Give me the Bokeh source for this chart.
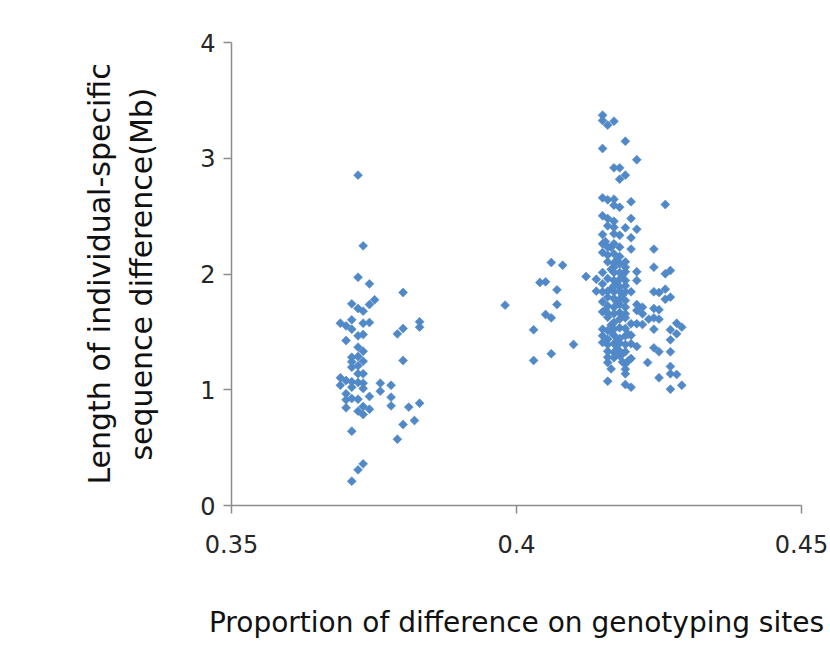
from bokeh.plotting import figure
from bokeh.models import Range1d, FixedTicker, ColumnDataSource
from bokeh.embed import file_html
from bokeh.resources import INLINE
import math

# ---- data ----
x_low = [0.3722, 0.3731, 0.3722, 0.3742, 0.3801, 0.3751, 0.3742, 0.3711, 0.3722, 0.3731,
         0.3691, 0.3701, 0.3711, 0.3711, 0.3731, 0.3742, 0.3830, 0.3830, 0.3801, 0.3791,
         0.3722, 0.3731, 0.3701, 0.3722, 0.3731, 0.3711, 0.3722, 0.3731, 0.3711, 0.3801,
         0.3722, 0.3711, 0.3731, 0.3722, 0.3691, 0.3701, 0.3711, 0.3722, 0.3731, 0.3691,
         0.3711, 0.3731, 0.3761, 0.3780, 0.3761, 0.3701, 0.3742, 0.3780, 0.3701, 0.3711,
         0.3722, 0.3830, 0.3780, 0.3701, 0.3731, 0.3742, 0.3722, 0.3811, 0.3731, 0.3801,
         0.3821, 0.3711, 0.3791, 0.3731, 0.3722, 0.3711]
y_low = [2.854, 2.243, 1.972, 1.915, 1.840, 1.777, 1.736, 1.742, 1.702, 1.679,
         1.575, 1.552, 1.604, 1.523, 1.575, 1.581, 1.587, 1.541, 1.529, 1.483,
         1.466, 1.477, 1.425, 1.368, 1.333, 1.281, 1.287, 1.247, 1.241, 1.253,
         1.207, 1.195, 1.138, 1.138, 1.103, 1.080, 1.069, 1.063, 1.057, 1.039,
         1.022, 1.011, 1.057, 1.039, 0.988, 0.965, 0.942, 0.936, 0.913, 0.924,
         0.918, 0.884, 0.861, 0.844, 0.855, 0.832, 0.815, 0.850, 0.786, 0.700,
         0.734, 0.642, 0.573, 0.360, 0.308, 0.210]

x_mid = [0.4061, 0.4081, 0.4122, 0.4041, 0.4051, 0.4071, 0.3980, 0.4071, 0.4051, 0.4061,
         0.4030, 0.4100, 0.4061, 0.4030]
y_mid = [2.099, 2.076, 1.978, 1.927, 1.932, 1.863, 1.731, 1.736, 1.650, 1.621,
         1.518, 1.391, 1.311, 1.253]

x_high = [0.4151, 0.4151, 0.4160, 0.4171, 0.4191, 0.4151, 0.4211, 0.4171, 0.4181, 0.4191,
          0.4181, 0.4151, 0.4160, 0.4171, 0.4171, 0.4181, 0.4201, 0.4261, 0.4151, 0.4160,
          0.4171, 0.4201, 0.4160, 0.4171, 0.4191, 0.4211, 0.4151, 0.4171, 0.4181, 0.4201,
          0.4151, 0.4160, 0.4171, 0.4181, 0.4201, 0.4241, 0.4151, 0.4160, 0.4171, 0.4181,
          0.4160, 0.4171, 0.4181, 0.4191, 0.4171, 0.4191, 0.4241, 0.4151, 0.4171, 0.4181,
          0.4191, 0.4211, 0.4261, 0.4270, 0.4140, 0.4160, 0.4171, 0.4181, 0.4191, 0.4211,
          0.4151, 0.4171, 0.4181, 0.4191, 0.4140, 0.4151, 0.4160, 0.4171, 0.4181, 0.4191,
          0.4201, 0.4241, 0.4250, 0.4261, 0.4151, 0.4160, 0.4171, 0.4181, 0.4191, 0.4261,
          0.4270, 0.4160, 0.4171, 0.4181, 0.4191, 0.4211, 0.4221, 0.4151, 0.4160, 0.4171,
          0.4181, 0.4191, 0.4211, 0.4221, 0.4241, 0.4250, 0.4160, 0.4181, 0.4191, 0.4232,
          0.4241, 0.4250, 0.4171, 0.4201, 0.4211, 0.4221, 0.4281, 0.4290, 0.4151, 0.4160,
          0.4171, 0.4181, 0.4191, 0.4241, 0.4270, 0.4281, 0.4151, 0.4160, 0.4171, 0.4181,
          0.4191, 0.4201, 0.4270, 0.4151, 0.4160, 0.4171, 0.4181, 0.4191, 0.4201, 0.4211,
          0.4241, 0.4250, 0.4160, 0.4171, 0.4181, 0.4191, 0.4270, 0.4160, 0.4171, 0.4181,
          0.4201, 0.4160, 0.4191, 0.4230, 0.4191, 0.4270, 0.4191, 0.4270, 0.4281, 0.4250,
          0.4160, 0.4191, 0.4201, 0.4290, 0.4270,
          0.4166, 0.4176, 0.4186, 0.4166, 0.4176, 0.4186, 0.4166, 0.4176, 0.4186, 0.4196,
          0.4156, 0.4166, 0.4176, 0.4186, 0.4156, 0.4166, 0.4176, 0.4186, 0.4196, 0.4166]
y_high = [3.372, 3.326, 3.286, 3.320, 3.147, 3.084, 2.987, 2.917, 2.917, 2.854,
          2.819, 2.658, 2.641, 2.646, 2.594, 2.577, 2.624, 2.600, 2.503, 2.479,
          2.456, 2.479, 2.416, 2.404, 2.399, 2.387, 2.341, 2.347, 2.335, 2.313,
          2.261, 2.232, 2.261, 2.232, 2.215, 2.215, 2.186, 2.163, 2.174, 2.151,
          2.105, 2.093, 2.088, 2.105, 2.059, 2.059, 2.059, 2.013, 2.013, 2.013,
          2.019, 2.019, 2.002, 2.030, 1.955, 1.961, 1.944, 1.955, 1.944, 1.944,
          1.915, 1.898, 1.886, 1.898, 1.852, 1.846, 1.852, 1.846, 1.852, 1.846,
          1.846, 1.846, 1.840, 1.869, 1.760, 1.800, 1.788, 1.782, 1.771, 1.782,
          1.800, 1.725, 1.713, 1.736, 1.713, 1.736, 1.713, 1.673, 1.661, 1.656,
          1.667, 1.656, 1.685, 1.656, 1.702, 1.691, 1.627, 1.610, 1.621, 1.610,
          1.621, 1.610, 1.581, 1.570, 1.570, 1.564, 1.575, 1.541, 1.523, 1.512,
          1.523, 1.535, 1.529, 1.523, 1.518, 1.483, 1.466, 1.437, 1.471, 1.443,
          1.466, 1.471, 1.431, 1.408, 1.391, 1.397, 1.402, 1.391, 1.397, 1.374,
          1.362, 1.328, 1.333, 1.322, 1.333, 1.328, 1.328, 1.281, 1.276, 1.293,
          1.270, 1.235, 1.224, 1.235, 1.178, 1.201, 1.138, 1.138, 1.132, 1.103,
          1.074, 1.045, 1.022, 1.039, 1.005,
          2.230, 2.120, 1.990, 1.870, 1.760, 1.640, 1.500, 1.420, 1.310, 1.250,
          2.280, 2.040, 1.920, 1.820, 1.690, 1.560, 1.350, 1.240, 1.480, 1.180]

x_ticks = [0.35, 0.4, 0.45]
x_tick_labels = ["0.35", "0.4", "0.45"]
y_ticks = [0, 1, 2, 3, 4]

x_title = "Proportion of difference on genotyping sites"
y_title = "Length of individual-specific\nsequence difference(Mb)"

xs = x_low + x_mid + x_high
ys = y_low + y_mid + y_high
src = ColumnDataSource(dict(x=xs, y=ys))

FONT = "DejaVu Sans"
AXIS_COLOR = "#8c8c8c"
TEXT_COLOR = "#262626"

p = figure(width=830, height=658, output_backend="svg", toolbar_location=None,
           x_range=Range1d(0.35, 0.45), y_range=Range1d(0, 4),
           min_border_left=231, min_border_right=29,
           min_border_top=42, min_border_bottom=153)

p.scatter("x", "y", source=src, marker="square", angle=math.pi / 4, size=6.3,
          fill_color="#5189c8", line_color="#5189c8", line_width=0.6)

p.xgrid.visible = False
p.ygrid.visible = False
p.outline_line_color = None
p.background_fill_color = "white"
p.border_fill_color = "white"

p.xaxis.ticker = FixedTicker(ticks=x_ticks)
p.xaxis.major_label_overrides = {t: s for t, s in zip(x_ticks, x_tick_labels)}
p.yaxis.ticker = FixedTicker(ticks=y_ticks)

for ax in (p.xaxis[0], p.yaxis[0]):
    ax.axis_line_color = AXIS_COLOR
    ax.axis_line_width = 1.5
    ax.major_tick_line_color = AXIS_COLOR
    ax.major_tick_line_width = 1.5
    ax.major_tick_out = 8
    ax.major_tick_in = 0
    ax.minor_tick_line_color = None
    ax.major_label_text_font = FONT
    ax.major_label_text_font_size = "24px"
    ax.major_label_text_color = TEXT_COLOR
    ax.axis_label_text_font = FONT
    ax.axis_label_text_font_style = "normal"
    ax.axis_label_text_color = "#111111"

p.xaxis.axis_label = x_title
p.xaxis.axis_label_text_font_size = "28px"
p.xaxis.major_label_standoff = 21
p.xaxis.axis_label_standoff = 50

p.yaxis.axis_label = y_title
p.yaxis.axis_label_text_font_size = "30px"
p.yaxis.major_label_standoff = 8
p.yaxis.axis_label_standoff = 38
p.yaxis.axis_label_text_line_height = 1.2

open("out.html", "w").write(file_html(p, INLINE))
